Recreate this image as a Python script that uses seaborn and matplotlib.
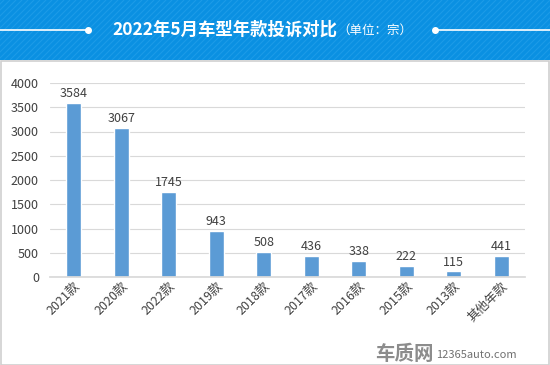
import matplotlib
matplotlib.use("Agg")
import matplotlib.pyplot as plt
import seaborn as sns
import pandas as pd
from matplotlib.patches import Rectangle

categories = ["2021款", "2020款", "2022款", "2019款", "2018款", "2017款", "2016款", "2015款", "2013款", "其他年款"]
values = [3584, 3067, 1745, 943, 508, 436, 338, 222, 115, 441]
yticks = [0, 500, 1000, 1500, 2000, 2500, 3000, 3500, 4000]

sns.set_theme(style="white")
plt.rcParams['font.family'] = ['Noto Sans CJK SC', 'DejaVu Sans']

df = pd.DataFrame({"cat": categories, "val": values})

fig = plt.figure(figsize=(5.5, 3.65), dpi=100)
fig.patch.set_facecolor("white")

# header band
hdr = fig.add_axes([0, 1 - 60/365, 1, 60/365])
hdr.set_xlim(0, 550); hdr.set_ylim(0, 60)
hdr.axis("off")
hdr.add_patch(Rectangle((0, 0), 550, 60, color="#0A90E2", zorder=0))
for k in range(-80, 620, 6):
    hdr.plot([k, k + 60], [0, 60], color="#1C9BE8", lw=0.8, zorder=1)
hdr.plot([0, 88], [30, 30], color="white", lw=1.2, zorder=2)
hdr.plot([435, 550], [30, 30], color="white", lw=1.2, zorder=2)
hdr.plot([88], [30], "o", color="white", ms=4, zorder=3)
hdr.plot([435], [30], "o", color="white", ms=4, zorder=3)
hdr.text(112, 30, "2022年5月车型年款投诉对比", color="white", fontsize=12.5,
         fontweight="bold", ha="left", va="center", zorder=4)
hdr.text(337, 30, "（单位：宗）", color="white", fontsize=9,
         ha="left", va="center", zorder=4)

# border of body
fig.add_artist(Rectangle((1/550, 0.5/365), 547.5/550, (365-60-1)/365,
                         transform=fig.transFigure, fill=False,
                         edgecolor="#D0D0D0", lw=1.2))

ax = fig.add_axes([50/550, (365-277)/365, 475/550, (277-83)/365])
sns.barplot(data=df, x="cat", y="val", color="#5B9BD5", width=0.32,
            saturation=1, ax=ax)
ax.set_ylim(0, 4000)
ax.set_yticks(yticks)
ax.set_yticklabels([str(t) for t in yticks], fontsize=9, color="#404040")
ax.yaxis.grid(True, color="#D9D9D9", lw=0.8)
ax.set_axisbelow(True)
for s in ["top", "right", "left"]:
    ax.spines[s].set_visible(False)
ax.spines["bottom"].set_color("#D9D9D9")
ax.set_xlabel(""); ax.set_ylabel("")
ax.tick_params(axis="y", length=0, pad=8)
ax.tick_params(axis="x", length=0, pad=2)
ax.set_xticks(range(len(categories)))
ax.set_xticklabels(categories, rotation=45, ha="right", rotation_mode="anchor",
                   fontsize=9, color="#404040")
for i, v in enumerate(values):
    ax.text(i, v + 60, str(v), ha="center", va="bottom", fontsize=9, color="#404040")

# watermark
fig.text(375/550, 1 - 354/365, "车质网", fontsize=14, fontweight="bold",
         color="#8C8C8C", ha="left", va="center")
fig.text(436/550, 1 - 355/365, "12365auto.com", fontsize=8,
         color="#707070", ha="left", va="center")

fig.savefig("out.png", dpi=100, facecolor="white")
